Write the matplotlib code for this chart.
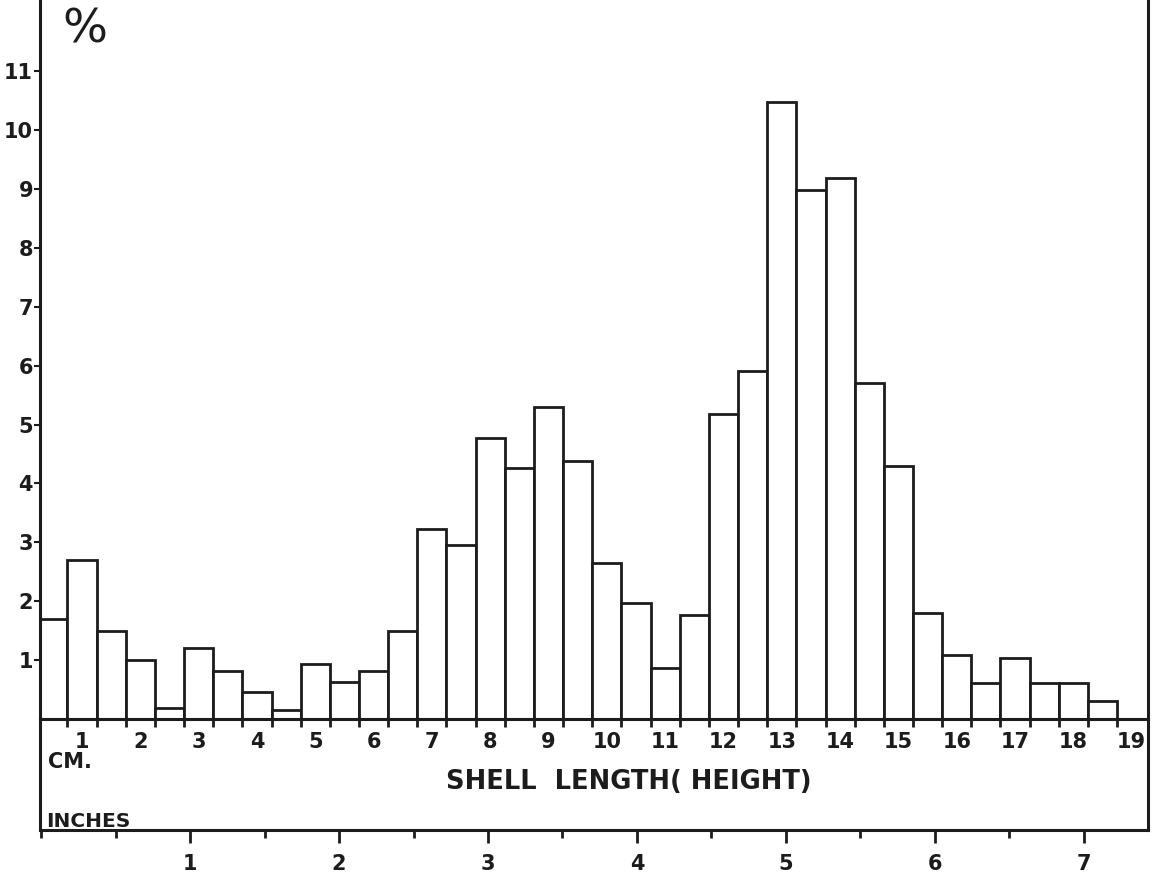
import matplotlib.pyplot as plt
import numpy as np

# shell length histogram, 0.5 cm classes
bin_cm = np.arange(0.5, 18.6, 0.5)
pct = [1.7, 2.7, 1.5, 1.0, 0.18, 1.2, 0.82, 0.45, 0.15, 0.93, 0.62, 0.82,
       1.5, 3.22, 2.95, 4.77, 4.26, 5.3, 4.38, 2.65, 1.97, 0.87, 1.76,
       5.18, 5.9, 10.48, 8.98, 9.18, 5.7, 4.3, 1.8, 1.08, 0.61, 1.03,
       0.61, 0.61, 0.3]
cm_labels = list(range(1, 20))
inch_labels = list(range(1, 8))
pct_ticks = list(range(1, 12))

ink = '#1c1c1c'
W, H = 1164, 882

def fx(px):
    return px / W

def fy(py):
    return 1 - py / H

plt.rcParams['font.weight'] = 'bold'

fig = plt.figure(figsize=(11.64, 8.82), dpi=100)

# main histogram axes
ax = fig.add_axes([fx(40), fy(719), fx(1148) - fx(40), fy(0) - fy(719)])
ax.bar(bin_cm, pct, width=0.5, color='white', edgecolor=ink, linewidth=2)
ax.set_xlim(0.28, 19.28)
ax.set_ylim(0, 719 / 58.9)

for s in ['left', 'right', 'bottom']:
    ax.spines[s].set_linewidth(2.2)
    ax.spines[s].set_color(ink)
ax.spines['top'].set_visible(False)

ax.set_yticks(pct_ticks)
ax.set_yticklabels([str(v) for v in pct_ticks])
ax.tick_params(axis='y', direction='out', length=4, width=1.5, pad=1,
               labelsize=15, colors=ink)

edges = np.arange(0.75, 18.8, 0.5)
ax.set_xticks(edges)
ax.set_xticklabels([])
ax.set_xticks(cm_labels, minor=True)
ax.set_xticklabels([str(v) for v in cm_labels], minor=True)
ax.tick_params(axis='x', which='major', direction='out', length=6, width=2,
               colors=ink)
ax.tick_params(axis='x', which='minor', length=0, pad=9, labelsize=15,
               colors=ink)

ax.text(0.02, 0.99, '%', transform=ax.transAxes, fontsize=34,
        fontweight='normal', ha='left', va='top', color=ink)

# inches scale below
ax2 = fig.add_axes([fx(40), fy(830), fx(1148) - fx(40), fy(719) - fy(830)])
ax2.set_facecolor('none')
ax2.set_xlim(-0.007, 7.43)
ax2.set_ylim(0, 1)
ax2.set_yticks([])
ax2.spines['top'].set_visible(False)
for s in ['left', 'right', 'bottom']:
    ax2.spines[s].set_linewidth(2.2)
    ax2.spines[s].set_color(ink)
ax2.set_xticks(inch_labels)
ax2.set_xticklabels([str(v) for v in inch_labels])
ax2.set_xticks(np.arange(0, 7.5, 0.5), minor=True)
ax2.tick_params(axis='x', which='major', direction='out', length=9, width=2,
                pad=8, labelsize=15, colors=ink)
ax2.tick_params(axis='x', which='minor', direction='out', length=6, width=2,
                colors=ink)

fig.text(fx(48), fy(762), 'CM.', fontsize=15, ha='left', va='center', color=ink)
fig.text(fx(629), fy(782), 'SHELL  LENGTH( HEIGHT)', fontsize=18.5,
         ha='center', va='center', color=ink)
fig.text(fx(46), fy(831), 'INCHES', fontsize=14.5, ha='left', va='bottom',
         color=ink)

fig.savefig('out.png', dpi=100, facecolor='white')
